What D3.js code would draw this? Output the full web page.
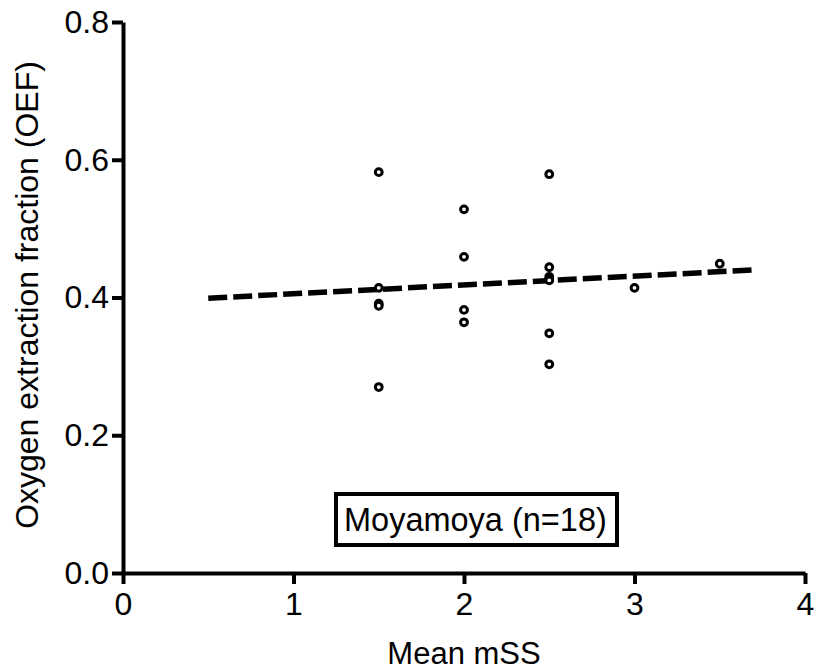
<!DOCTYPE html>
<html>
<head>
<meta charset="utf-8">
<script src="https://cdn.jsdelivr.net/npm/d3@7"></script>
<style>
  body { margin: 0; background: #fff; }
  svg text { font-family: "Liberation Sans", Arial, sans-serif; fill: #000; }
</style>
</head>
<body>
<script>
"use strict";
// mean mSS (x) and OEF (y) for each subject
const mssValues = [1.5, 1.5, 1.5, 1.5, 1.5,
                   2, 2, 2, 2,
                   2.5, 2.5, 2.5, 2.5, 2.5, 2.5, 2.5,
                   3, 3.5];
const oefValues = [0.582, 0.414, 0.391, 0.388, 0.270,
                   0.528, 0.459, 0.382, 0.364,
                   0.579, 0.444, 0.430, 0.427, 0.425, 0.348, 0.303,
                   0.414, 0.449];
const fitX = [0.5, 3.7];
const fitY = [0.399, 0.440];
const xTicks = [0, 1, 2, 3, 4];
const yTicks = [0, 0.2, 0.4, 0.6, 0.8];
const legendText = "Moyamoya (n=18)";

(function(){
    const measurements = { width: 814, height: 670 };

    const svg = d3.select("body").append("svg")
        .attr("width", measurements.width)
        .attr("height", measurements.height);

    const scaleX = d3.scaleLinear().domain([0, 4]).range([123, 805]);
    const scaleY = d3.scaleLinear().domain([0, 0.8]).range([573, 22]);

    // axes
    const xAxis = d3.axisBottom(scaleX)
        .tickValues(xTicks)
        .tickFormat(d3.format("d"))
        .tickSize(11).tickSizeOuter(0).tickPadding(8);
    const yAxis = d3.axisLeft(scaleY)
        .tickValues(yTicks)
        .tickFormat(d3.format(".1f"))
        .tickSize(11).tickSizeOuter(0).tickPadding(3);

    const gx = svg.append("g")
        .attr("transform", "translate(0," + scaleY(0) + ")")
        .call(xAxis);
    const gy = svg.append("g")
        .attr("transform", "translate(" + scaleX(0) + ",0)")
        .call(yAxis);

    [gx, gy].forEach(g => {
        g.attr("font-family", null);
        g.select(".domain").attr("stroke", "#000").attr("stroke-width", 4);
        g.selectAll(".tick line").attr("stroke", "#000").attr("stroke-width", 4);
        g.selectAll(".tick text").style("font-size", "32px");
    });

    // regression line
    const line = d3.line()
        .x(d => scaleX(d))
        .y((d, i) => scaleY(fitY[i]));
    svg.append("path")
        .attr("d", line(fitX))
        .attr("fill", "none")
        .attr("stroke", "#000")
        .attr("stroke-width", 5.5)
        .attr("stroke-dasharray", "19,6");

    // points
    svg.selectAll(".dot")
        .data(mssValues)
        .enter()
        .append("circle")
            .attr("class", "dot")
            .attr("cx", d => scaleX(d))
            .attr("cy", (d, i) => scaleY(oefValues[i]))
            .attr("r", 3.4)
            .attr("fill", "#fff")
            .attr("stroke", "#000")
            .attr("stroke-width", 3);

    // legend box
    svg.append("rect")
        .attr("x", 336)
        .attr("y", 494)
        .attr("width", 281)
        .attr("height", 51)
        .attr("fill", "#fff")
        .attr("stroke", "#000")
        .attr("stroke-width", 4);
    svg.append("text")
        .attr("x", 344)
        .attr("y", 531)
        .style("font-size", "32.5px")
        .text(legendText);

    // axis labels
    svg.append("text")
        .attr("x", 464)
        .attr("y", 664)
        .attr("text-anchor", "middle")
        .style("font-size", "31px")
        .text("Mean mSS");

    svg.append("text")
        .attr("transform", "translate(38, 295)rotate(-90)")
        .attr("text-anchor", "middle")
        .style("font-size", "32px")
        .text("Oxygen extraction fraction (OEF)");
})();
</script>
</body>
</html>
